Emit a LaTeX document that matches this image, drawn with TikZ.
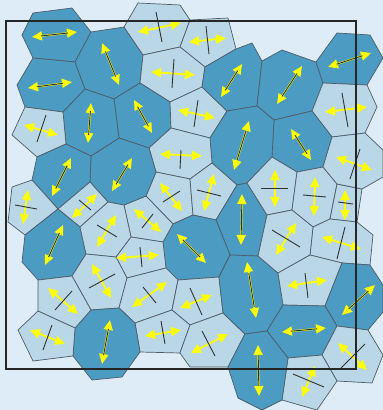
\documentclass[tikz,border=0pt]{standalone}
\usetikzlibrary{arrows.meta,calc}
\definecolor{bgc}{HTML}{DEECF8}
\definecolor{dkc}{HTML}{4B9BC3}
\definecolor{ltc}{HTML}{B9D7E6}
\definecolor{edc}{HTML}{4F5D68}
\definecolor{ylc}{HTML}{FFFF00}
\newcommand\DA[2]{\draw[arr] #1 -- #2; \draw[dirl] ($#1!0.2!#2$) -- ($#1!0.8!#2$);}
\begin{document}
\begin{tikzpicture}[x=1pt,y=-1pt,
 dk/.style={fill=dkc,draw=edc,line width=0.7pt,line join=round},
 lt/.style={fill=ltc,draw=edc,line width=0.7pt,line join=round},
 arr/.style={draw=ylc,line width=1.8pt,{Triangle[length=10pt,width=9pt]}-{Triangle[length=10pt,width=9pt]}},
 dirl/.style={draw=black!80,line width=0.9pt},
 frm/.style={draw=black!85,line width=1.1pt}]
\fill[bgc] (0,0) rectangle (383,410);
\useasboundingbox (0,0) rectangle (383,410);
% vertices
\coordinate (a1) at (33,13); \coordinate (a2) at (72,8); \coordinate (a3) at (91,32);
\coordinate (a4) at (75,62); \coordinate (a5) at (33,58); \coordinate (a6) at (22,35);
\coordinate (a7) at (85,89); \coordinate (a8) at (63,112); \coordinate (a9) at (25,107);
\coordinate (a10) at (17,85);
\coordinate (b1) at (124,27); \coordinate (b2) at (143,55); \coordinate (b3) at (140,83);
\coordinate (b4) at (114,99);
\coordinate (c1) at (138,3); \coordinate (c2) at (180,5); \coordinate (c3) at (190,20);
\coordinate (c4) at (180,47);
\coordinate (d1) at (228,18); \coordinate (d2) at (236,49); \coordinate (d3) at (205,67);
\coordinate (d4) at (202,87); \coordinate (d5) at (170,102); \coordinate (d6) at (227,111);
\coordinate (e1) at (171,128); \coordinate (e2) at (149,148); \coordinate (e3) at (119,138);
\coordinate (e4) at (210,138); \coordinate (e5) at (212,163); \coordinate (e6) at (190,179);
\coordinate (e7) at (156,172); \coordinate (e8) at (193,215); \coordinate (e9) at (173,224);
\coordinate (e10) at (146,196); \coordinate (e11) at (163,242);
\coordinate (f1) at (252,43); \coordinate (f2) at (262,61); \coordinate (f3) at (257,106);
\coordinate (g1) at (282,50); \coordinate (g2) at (316,62); \coordinate (g3) at (323,83);
\coordinate (g4) at (312,111); \coordinate (g5) at (274,120); \coordinate (g6) at (337,33);
\coordinate (g7) at (370,35); \coordinate (g8) at (383,58); \coordinate (g9) at (367,85);
\coordinate (g10) at (377,107); \coordinate (g11) at (365,133); \coordinate (g12) at (332,137);
\coordinate (h1) at (323,167); \coordinate (h2) at (297,172); \coordinate (h3) at (272,157);
\coordinate (h4) at (383,177); \coordinate (h5) at (362,189); \coordinate (h6) at (337,184);
\coordinate (h7) at (330,219); \coordinate (h8) at (357,222); \coordinate (h9) at (373,235);
\coordinate (h10) at (370,265); \coordinate (t1) at (383,150);
\coordinate (i1) at (247,183); \coordinate (i2) at (237,185); \coordinate (i4) at (216,220);
\coordinate (j1) at (267,215); \coordinate (j2) at (258,256); \coordinate (j3) at (230,255);
\coordinate (k1) at (219,277); \coordinate (k2) at (178,280); \coordinate (k3) at (166,268);
\coordinate (k4) at (223,313); \coordinate (k5) at (190,325); \coordinate (k6) at (180,353);
\coordinate (k7) at (140,352); \coordinate (k8) at (245,334); \coordinate (k9) at (228,367);
\coordinate (k10) at (190,367);
\coordinate (m1) at (131,237); \coordinate (m2) at (124,205); \coordinate (m3) at (116,257);
\coordinate (m4) at (127,278); \coordinate (m5) at (119,308); \coordinate (m6) at (91,310);
\coordinate (m7) at (172,310); \coordinate (m8) at (135,323);
\coordinate (n1) at (91,156); \coordinate (n2) at (108,202); \coordinate (n3) at (90,182);
\coordinate (n4) at (66,144); \coordinate (n5) at (37,157); \coordinate (n6) at (12,135);
\coordinate (n7) at (58,209); \coordinate (n8) at (32,180); \coordinate (n9) at (12,187);
\coordinate (n10) at (25,235); \coordinate (n11) at (8,222); \coordinate (n12) at (80,227);
\coordinate (n13) at (86,254); \coordinate (n14) at (72,276); \coordinate (n15) at (38,280);
\coordinate (n16) at (22,262);
\coordinate (o1) at (122,377); \coordinate (o2) at (92,380); \coordinate (o3) at (73,356);
\coordinate (o4) at (75,328); \coordinate (o5) at (38,311); \coordinate (o6) at (33,361);
\coordinate (o7) at (18,330);
\coordinate (p1) at (267,331); \coordinate (p2) at (288,358); \coordinate (p3) at (282,400);
\coordinate (p4) at (262,410); \coordinate (p5) at (238,398); \coordinate (p6) at (283,305);
\coordinate (q1) at (292,210); \coordinate (q2) at (313,227); \coordinate (q3) at (310,255);
\coordinate (q4) at (278,273);
\coordinate (r1) at (325,306); \coordinate (r2) at (342,263); \coordinate (r3) at (383,285);
\coordinate (r6) at (383,312); \coordinate (r4) at (368,330); \coordinate (r5) at (337,326);
\coordinate (s1) at (322,355); \coordinate (s2) at (383,355); \coordinate (s3) at (372,383);
\coordinate (s4) at (337,381); \coordinate (s5) at (317,410);
% cells
\filldraw[dk] (a1)--(a2)--(a3)--(a4)--(a5)--(a6)--cycle;
\filldraw[dk] (a5)--(a4)--(a7)--(a8)--(a9)--(a10)--cycle;
\filldraw[dk] (a3)--(b1)--(b2)--(b3)--(b4)--(a7)--(a4)--cycle;
\filldraw[lt] (c1)--(c2)--(c3)--(c4)--(b2)--(b1)--cycle;
\filldraw[lt] (c3)--(d1)--(d2)--(d3)--(c4)--cycle;
\filldraw[lt] (b2)--(c4)--(d3)--(d4)--(d5)--(b3)--cycle;
\filldraw[dk] (b4)--(b3)--(d5)--(e1)--(e2)--(e3)--cycle;
\filldraw[lt] (d5)--(d4)--(d6)--(e4)--(e1)--cycle;
\filldraw[dk] (d3)--(d2)--(f1)--(f2)--(f3)--(d6)--(d4)--cycle;
\filldraw[dk] (f2)--(g1)--(g2)--(g3)--(g4)--(g5)--(f3)--cycle;
\filldraw[dk] (g2)--(g6)--(g7)--(g8)--(g9)--(g3)--cycle;
\filldraw[lt] (g3)--(g9)--(g10)--(g11)--(g12)--(g4)--cycle;
\filldraw[dk] (g5)--(g4)--(g12)--(h1)--(h2)--(h3)--cycle;
\filldraw[dk] (d6)--(f3)--(g5)--(h3)--(i1)--(i2)--(e5)--(e4)--cycle;
\filldraw[lt] (e2)--(e1)--(e4)--(e5)--(e6)--(e7)--cycle;
\filldraw[lt] (e7)--(e6)--(e8)--(e9)--(e10)--cycle;
\filldraw[lt] (e6)--(e5)--(i2)--(i4)--(e8)--cycle;
\filldraw[dk] (i2)--(i1)--(j1)--(j2)--(j3)--(i4)--cycle;
\filldraw[dk] (e9)--(e8)--(i4)--(j3)--(k1)--(k2)--(k3)--(e11)--cycle;
\filldraw[lt] (e10)--(e9)--(e11)--(m1)--(m2)--cycle;
\filldraw[dk] (n1)--(e3)--(e2)--(e7)--(e10)--(m2)--(n2)--(n3)--cycle;
\filldraw[dk] (a7)--(b4)--(e3)--(n1)--(n4)--(a8)--cycle;
\filldraw[lt] (a9)--(a8)--(n4)--(n5)--(n6)--cycle;
\filldraw[dk] (n4)--(n1)--(n3)--(n7)--(n8)--(n5)--cycle;
\filldraw[lt] (n9)--(n8)--(n7)--(n10)--(n11)--cycle;
\filldraw[lt] (n7)--(n3)--(n2)--(n12)--cycle;
\filldraw[dk] (n10)--(n7)--(n12)--(n13)--(n14)--(n15)--(n16)--cycle;
\filldraw[lt] (n12)--(n2)--(m2)--(m1)--(m3)--(n13)--cycle;
\filldraw[lt] (m1)--(e11)--(k3)--(m4)--(m3)--cycle;
\filldraw[lt] (n13)--(m3)--(m4)--(m5)--(m6)--(n14)--cycle;
\filldraw[lt] (m4)--(k3)--(k2)--(m7)--(m8)--(m5)--cycle;
\filldraw[lt] (k2)--(k1)--(k4)--(k5)--(m7)--cycle;
\filldraw[lt] (m8)--(m7)--(k5)--(k6)--(k7)--cycle;
\filldraw[lt] (k5)--(k4)--(k8)--(k9)--(k10)--(k6)--cycle;
\filldraw[dk] (m6)--(m5)--(m8)--(k7)--(o1)--(o2)--(o3)--(o4)--cycle;
\filldraw[lt] (n15)--(n14)--(m6)--(o4)--(o5)--cycle;
\filldraw[lt] (o5)--(o4)--(o3)--(o6)--(o7)--cycle;
\filldraw[dk] (j3)--(j2)--(q4)--(p6)--(p1)--(k8)--(k4)--(k1)--cycle;
\filldraw[lt] (i1)--(h3)--(h2)--(q1)--(j1)--cycle;
\filldraw[lt] (h2)--(h1)--(h6)--(h7)--(q2)--(q1)--cycle;
\filldraw[lt] (h6)--(h5)--(h8)--(h7)--cycle;
\filldraw[lt] (q2)--(h7)--(h8)--(h9)--(h10)--(r2)--(q3)--cycle;
\filldraw[lt] (j1)--(q1)--(q2)--(q3)--(q4)--(j2)--cycle;
\filldraw[lt] (q4)--(q3)--(r2)--(r1)--(p6)--cycle;
\filldraw[dk] (r1)--(r2)--(h10)--(r3)--(r6)--(r4)--(r5)--cycle;
\filldraw[dk] (p6)--(r1)--(r5)--(s1)--(p2)--(p1)--cycle;
\filldraw[lt] (r5)--(r4)--(s2)--(s3)--(s4)--(s1)--cycle;
\filldraw[lt] (p2)--(s1)--(s4)--(s5)--(p3)--cycle;
\filldraw[dk] (k8)--(p1)--(p2)--(p3)--(p4)--(p5)--(k9)--cycle;
\filldraw[lt] (g12)--(g11)--(t1)--(h4)--(h5)--(h6)--(h1)--cycle;
% light-cell arrows
\draw[arr] (138,32)--(181,23);
\draw[arr] (189,42)--(226,38);
\draw[arr] (151,72)--(195,75);
\draw[arr] (178,110)--(215,118);
\draw[arr] (325,112)--(367,107);
\draw[arr] (24,125)--(58,135);
\draw[arr] (28,190)--(23,224);
\draw[arr] (97,194)--(72,218);
\draw[arr] (116,215)--(97,247);
\draw[arr] (160,154)--(202,156);
\draw[arr] (160,183)--(182,211);
\draw[arr] (214,174)--(204,211);
\draw[arr] (134,209)--(161,232);
\draw[arr] (336,157)--(372,170);
\draw[arr] (275,170)--(275,207);
\draw[arr] (315,177)--(314,216);
\draw[arr] (345,190)--(345,220);
\draw[arr] (296,223)--(276,255);
\draw[arr] (322,237)--(361,249);
\draw[arr] (48,288)--(78,314);
\draw[arr] (30,330)--(65,344);
\draw[arr] (92,264)--(111,298);
\draw[arr] (116,258)--(159,255);
\draw[arr] (132,307)--(167,282);
\draw[arr] (180,308)--(212,295);
\draw[arr] (145,336)--(181,330);
\draw[arr] (191,353)--(228,334);
\draw[arr] (287,286)--(327,280);
\draw[arr] (338,343)--(367,370);
\draw[arr] (315,366)--(302,397);
% light-cell director lines
\draw[dirl] (156,12)--(162,42);
\draw[dirl] (206,26)--(209,54);
\draw[dirl] (174,59)--(172,88);
\draw[dirl] (198,100)--(194,127);
\draw[dirl] (342,93)--(348,127);
\draw[dirl] (46,115)--(37,142);
\draw[dirl] (15,205)--(37,209);
\draw[dirl] (79,200)--(91,210);
\draw[dirl] (97,225)--(117,237);
\draw[dirl] (181,150)--(180,169);
\draw[dirl] (163,202)--(180,191);
\draw[dirl] (197,190)--(221,196);
\draw[dirl] (142,228)--(153,214);
\draw[dirl] (360,149)--(350,179);
\draw[dirl] (261,188)--(288,188);
\draw[dirl] (303,195)--(326,197);
\draw[dirl] (338,202)--(353,204);
\draw[dirl] (272,230)--(300,247);
\draw[dirl] (345,227)--(337,259);
\draw[dirl] (72,291)--(55,310);
\draw[dirl] (52,325)--(43,350);
\draw[dirl] (89,288)--(115,274);
\draw[dirl] (140,247)--(142,267);
\draw[dirl] (143,287)--(156,303);
\draw[dirl] (190,288)--(202,315);
\draw[dirl] (161,321)--(165,344);
\draw[dirl] (202,331)--(215,356);
\draw[dirl] (305,273)--(308,298);
\draw[dirl] (341,368)--(365,344);
\draw[dirl] (293,374)--(324,387);
% dark-cell arrows
\DA{(32,37)}{(77,32)}
\DA{(28,88)}{(72,82)}
\DA{(102,43)}{(119,85)}
\DA{(242,64)}{(221,97)}
\DA{(302,66)}{(277,104)}
\DA{(328,67)}{(371,53)}
\DA{(91,103)}{(88,143)}
\DA{(134,100)}{(152,133)}
\DA{(71,158)}{(52,196)}
\DA{(132,158)}{(112,191)}
\DA{(63,225)}{(45,265)}
\DA{(177,234)}{(206,263)}
\DA{(242,194)}{(241,245)}
\DA{(249,121)}{(234,170)}
\DA{(291,129)}{(311,160)}
\DA{(110,320)}{(102,364)}
\DA{(247,262)}{(256,318)}
\DA{(282,332)}{(326,328)}
\DA{(342,315)}{(375,285)}
\DA{(258,345)}{(259,396)}
% frame
\draw[frm] (6,21) rectangle (356,369);
\end{tikzpicture}
\end{document}
